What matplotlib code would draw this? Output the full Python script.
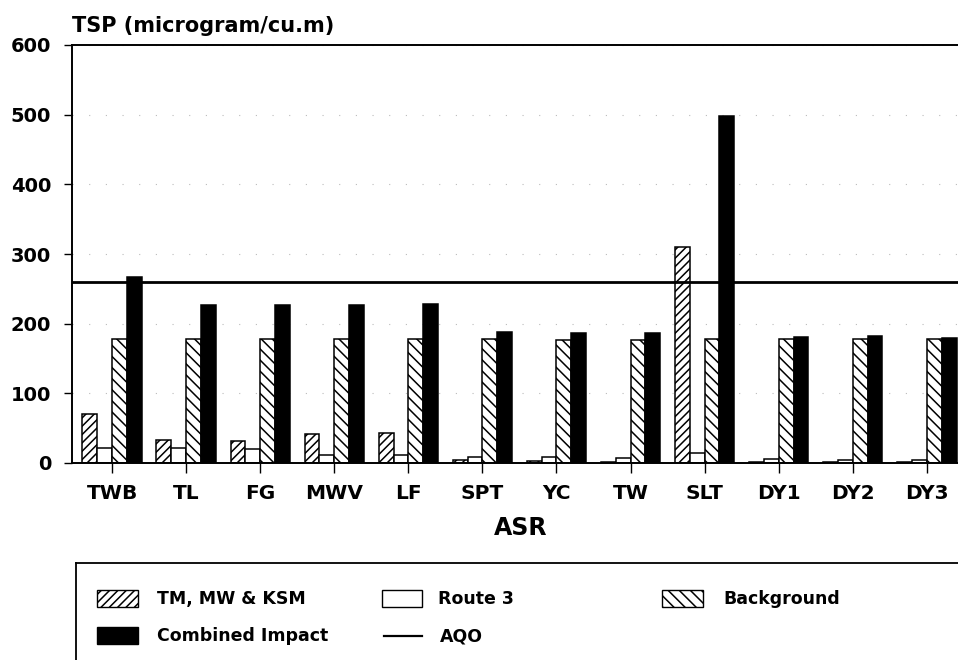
import matplotlib
matplotlib.use('Agg')
import matplotlib.pyplot as plt
from matplotlib.patches import Rectangle
from matplotlib.lines import Line2D
import numpy as np

asr = ['TWB', 'TL', 'FG', 'MWV', 'LF', 'SPT', 'YC', 'TW', 'SLT', 'DY1', 'DY2', 'DY3']
tm_mw_ksm = [71, 33, 31, 42, 43, 5, 3, 1, 310, 1, 1, 1]
route3 = [21, 21, 20, 11, 11, 9, 8, 7, 14, 6, 5, 4]
background = [178, 178, 178, 178, 178, 178, 177, 177, 178, 178, 178, 178]
combined = [267, 227, 227, 227, 228, 188, 187, 186, 498, 181, 182, 180]
aqo = 260
yticks = [0, 100, 200, 300, 400, 500, 600]

plt.rcParams['font.family'] = ['DejaVu Sans']
plt.rcParams['font.weight'] = 'bold'
plt.rcParams['hatch.linewidth'] = 1.1

fig = plt.figure(figsize=(9.58, 6.60), dpi=100)
W, H = 958, 660
ax = fig.add_axes([72 / W, 1 - 463 / H, (W - 72) / W, (463 - 45) / H])

x = np.arange(len(asr))
w = 0.2
ax.bar(x - 0.3, tm_mw_ksm, w, color='white', edgecolor='black', hatch='////', linewidth=1.1)
ax.bar(x - 0.1, route3, w, color='white', edgecolor='black', linewidth=1.1)
ax.bar(x + 0.1, background, w, color='white', edgecolor='black', hatch='\\\\\\', linewidth=1.1)
ax.bar(x + 0.3, combined, w, color='black', edgecolor='black', linewidth=1.1)
ax.axhline(aqo, color='black', linewidth=2.0, zorder=3)

ax.set_xlim(-0.54, 11.42)
ax.set_ylim(0, 600)
ax.set_yticks(yticks)
ax.set_xticks(x)
ax.set_xticklabels(asr)
# faint sparse dotted grid, as in the scanned original
ax.yaxis.grid(True, color='#bbbbbb', linestyle=(0, (1, 14)), linewidth=0.8)
ax.set_axisbelow(True)

for s in ['left', 'top', 'bottom']:
    ax.spines[s].set_linewidth(1.4)
ax.spines['right'].set_visible(False)
ax.tick_params(axis='x', direction='out', length=7, width=1.0, pad=8, labelsize=14.5)
ax.tick_params(axis='y', direction='out', length=6, width=1.0, pad=9, labelsize=14)

fig.text(72 / W, 1 - 32 / H, 'TSP (microgram/cu.m)', fontsize=15, va='baseline', ha='left')
fig.text(521 / W, 1 - 535 / H, 'ASR', fontsize=17, va='baseline', ha='center')

# legend box (runs off the right and bottom edges like the original)
lax = fig.add_axes([76 / W, 1 - 726 / H, 910 / W, 163 / H])
lax.set_xlim(76, 986)
lax.set_ylim(726, 563)
lax.set_xticks([])
lax.set_yticks([])
for s in ['right', 'bottom']:
    lax.spines[s].set_visible(False)
for s in ['left', 'top']:
    lax.spines[s].set_linewidth(1.3)

fs = 12.5
lax.add_patch(Rectangle((97, 590), 41, 17, facecolor='white', edgecolor='black', hatch='////', linewidth=1.0))
lax.text(157, 599, 'TM, MW & KSM', fontsize=fs, va='center')
lax.add_patch(Rectangle((382, 590), 40, 17, facecolor='white', edgecolor='black', linewidth=1.0))
lax.text(438, 599, 'Route 3', fontsize=fs, va='center')
lax.add_patch(Rectangle((662, 590), 41, 17, facecolor='white', edgecolor='black', hatch='\\\\\\', linewidth=1.0))
lax.text(723, 599, 'Background', fontsize=fs, va='center')
lax.add_patch(Rectangle((97, 627), 41, 17, facecolor='black', edgecolor='black', linewidth=1.0))
lax.text(157, 636, 'Combined Impact', fontsize=fs, va='center')
lax.add_line(Line2D([384, 422], [636, 636], color='black', linewidth=1.6))
lax.text(440, 636, 'AQO', fontsize=fs, va='center')

fig.savefig('out.png', dpi=100)
